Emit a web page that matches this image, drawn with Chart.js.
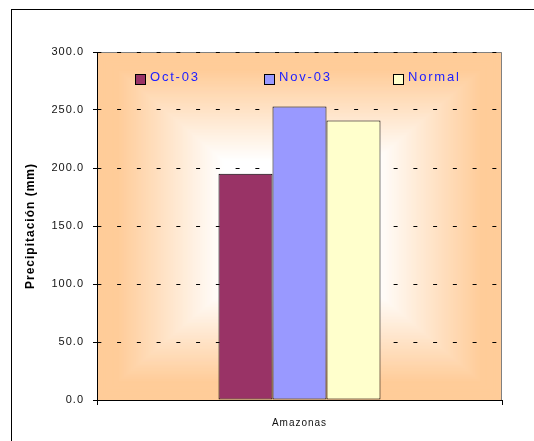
<!DOCTYPE html>
<html>
<head>
<meta charset="utf-8">
<script src="https://cdn.jsdelivr.net/npm/chart.js@4/dist/chart.umd.min.js"></script>
<style>
    body { margin: 0; background: #ffffff; }
</style>
</head>
<body>
<canvas id="precip" width="534" height="441"></canvas>
<script>
// data
const categories = ["Amazonas"]
const series_names = ["Oct-03", "Nov-03", "Normal"]
const oct_03 = [195.0]
const nov_03 = [253.0]
const normal = [241.0]
const y_min = 0
const y_max = 300
const y_step = 50

const plum = "#993366"
const lilac = "#9999ff"
const cream = "#ffffcc"
const peach = [255, 204, 153]
const legend_blue = "#2020ff"
const font_family = "'Liberation Sans', Arial, sans-serif"

// background, "from center" gradient like excel + frames
const background_plugin = {
    id: 'background',
    beforeDraw(chart) {
        const {ctx, chartArea} = chart
        const {left, top, right, bottom} = chartArea
        const cx = (left + right) / 2
        const cy = (top + bottom) / 2
        const hw = (right - left) / 2
        const hh = (bottom - top) / 2
        ctx.save()
        const n = 120
        for (let i = n; i >= 0; i--) {
            const t = i / n
            let k = (t - 0.38) / (0.9 - 0.38)
            k = Math.max(0, Math.min(1, k))
            const r = Math.round(255 + (peach[0] - 255) * k)
            const g = Math.round(255 + (peach[1] - 255) * k)
            const b = Math.round(255 + (peach[2] - 255) * k)
            ctx.fillStyle = `rgb(${r},${g},${b})`
            ctx.fillRect(cx - hw * t, cy - hh * t, hw * t * 2, hh * t * 2)
        }
        // grey frame (top, right)
        ctx.strokeStyle = "#808080"
        ctx.lineWidth = 1
        ctx.beginPath()
        ctx.moveTo(left, top + 0.5)
        ctx.lineTo(right - 0.5, top + 0.5)
        ctx.lineTo(right - 0.5, bottom)
        ctx.stroke()
        // outer chart border
        ctx.strokeStyle = "#000000"
        ctx.strokeRect(11.5, 9.5, 700, 600)
        ctx.restore()
        ctx.letterSpacing = "1px"  //excel spreads its letters
    }
}

// legend sits inside the plot area
const legend_plugin = {
    id: 'innerLegend',
    afterDatasetsDraw(chart) {
        const {ctx, chartArea} = chart
        ctx.save()
        ctx.font = "13px " + font_family
        ctx.letterSpacing = "1.8px"
        ctx.textBaseline = "alphabetic"
        ctx.lineWidth = 1
        chart.data.datasets.forEach((ds, i) => {
            const x = Math.round(chartArea.left + 38 + i * 129)
            const y = Math.round(chartArea.top + 22)
            ctx.fillStyle = ds.backgroundColor
            ctx.fillRect(x, y, 10, 10)
            ctx.strokeStyle = "#000000"
            ctx.strokeRect(x + 0.5, y + 0.5, 10, 10)
            ctx.fillStyle = legend_blue
            ctx.fillText(ds.label, x + 15, y + 6.5)
        })
        ctx.restore()
    }
}

const ctx = document.getElementById('precip')
new Chart(ctx, {
    type: "bar",
    data: {
        labels: categories,
        datasets: [{
            label: series_names[0],
            data: oct_03,
            backgroundColor: plum,
        },{
            label: series_names[1],
            data: nov_03,
            backgroundColor: lilac,
        },{
            label: series_names[2],
            data: normal,
            backgroundColor: cream,
        }]
    },
    options: {
        responsive: false,
        animation: false,
        layout: {
            padding: {top: 52, right: 32, left: 0, bottom: 0}
        },
        datasets: {
            bar: {
                borderColor: "#000000",
                borderWidth: 1,
                borderSkipped: false,
                barPercentage: 1.0,
                categoryPercentage: 0.4,
            }
        },
        plugins: {
            legend: { display: false },
            tooltip: { enabled: false },
        },
        scales: {
            x: {
                afterFit(scale) { scale.height = 41 },
                grid: {
                    offset: true,
                    drawOnChartArea: false,
                    tickLength: 5,
                    color: "#000000",
                },
                border: { color: "#000000", width: 1 },
                ticks: {
                    color: "#111111",
                    padding: 12,
                    font: { family: font_family, size: 10 },
                },
            },
            y: {
                min: y_min,
                max: y_max,
                afterFit(scale) { scale.width = 97 },
                grid: {
                    color: "#000000",
                    tickLength: 4,
                    tickBorderDash: [],
                    tickColor: "#000000",
                },
                border: {
                    color: "#000000",
                    width: 1,
                    dash: [4, 15.75],  //v4: dashes of the grid lines live here
                    dashOffset: 0.65,
                },
                ticks: {
                    stepSize: y_step,
                    color: "#111111",
                    padding: 9,
                    font: { family: font_family, size: 11 },
                    callback: (value) => value.toFixed(1),
                },
                title: {
                    display: true,
                    text: "Precipitación (mm)",
                    color: "#000000",
                    padding: { top: 23, bottom: 0 },
                    font: { family: font_family, size: 12, weight: "bold" },
                },
            }
        },
    },
    plugins: [background_plugin, legend_plugin]
});
</script>
</body>
</html>
